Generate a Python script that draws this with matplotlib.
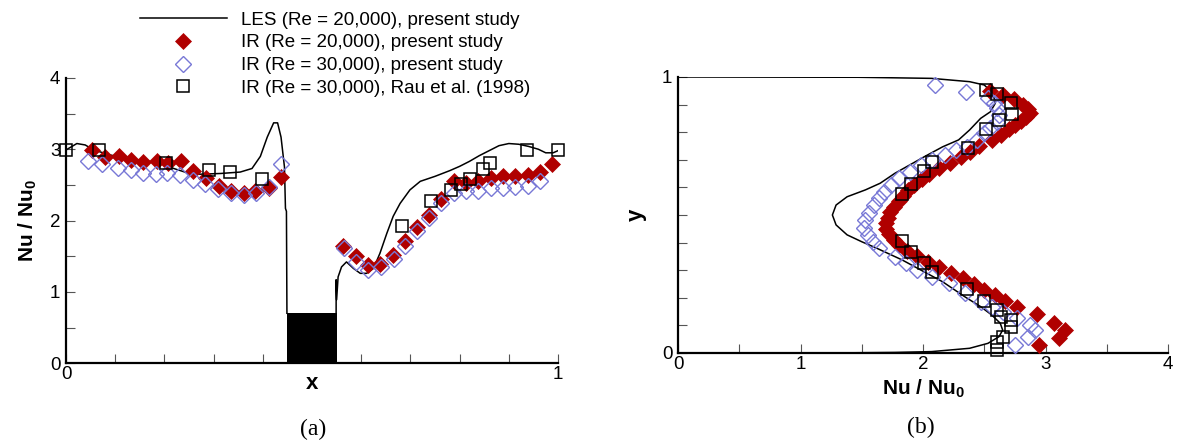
import matplotlib.pyplot as plt
from matplotlib.ticker import MultipleLocator

plt.rcParams['font.family'] = 'Liberation Sans'
plt.rcParams['mathtext.fontset'] = 'custom'
plt.rcParams['mathtext.bf'] = 'Liberation Sans:bold'
plt.rcParams['mathtext.rm'] = 'Liberation Sans'

# ---- panel (a): Nu/Nu0 along x ----
les_a_x = [0.0, 0.022, 0.039, 0.056, 0.09, 0.124, 0.157, 0.191, 0.219, 0.246, 0.273, 0.314,
           0.354, 0.378, 0.395, 0.409, 0.422, 0.430, 0.437, 0.444, 0.446, 0.448, 0.449,
           None,
           0.549, 0.549, 0.550, 0.553, 0.560, 0.570, 0.584, 0.598, 0.611, 0.625, 0.638, 0.652,
           0.665, 0.679, 0.699, 0.720, 0.75, 0.78, 0.80, 0.82, 0.84, 0.86, 0.88, 0.90, 0.92,
           0.94, 0.96, 0.975, 0.99, 1.0]
les_a_y = [2.99, 3.08, 3.06, 2.99, 2.92, 2.86, 2.84, 2.81, 2.73, 2.67, 2.65, 2.66,
           2.68, 2.73, 2.90, 3.17, 3.37, 3.37, 3.17, 2.75, 2.17, 2.13, 0.70,
           None,
           0.70, 1.17, 0.89, 1.21, 1.35, 1.42, 1.33, 1.26, 1.26, 1.33, 1.54, 1.82,
           2.06, 2.24, 2.43, 2.55, 2.62, 2.70, 2.76, 2.83, 2.91, 2.98, 3.05, 3.08, 3.07,
           3.04, 3.00, 2.95, 2.95, 2.98]

ir20_a_x = [0.052, 0.079, 0.107, 0.132, 0.157, 0.185, 0.208, 0.234, 0.259, 0.285, 0.310, 0.335,
            0.361, 0.385, 0.412, 0.436,
            0.562, 0.589, 0.614, 0.638, 0.664, 0.689, 0.713, 0.738, 0.763, 0.788, 0.813,
            0.838, 0.863, 0.888, 0.913, 0.938, 0.963, 0.988]
ir20_a_y = [2.99, 2.89, 2.90, 2.85, 2.82, 2.83, 2.81, 2.83, 2.70, 2.60, 2.49, 2.41,
            2.39, 2.41, 2.45, 2.61,
            1.65, 1.50, 1.38, 1.39, 1.52, 1.71, 1.91, 2.08, 2.30, 2.55, 2.53,
            2.55, 2.60, 2.62, 2.62, 2.64, 2.68, 2.80]

ir30_a_x = [0.045, 0.073, 0.105, 0.132, 0.157, 0.183, 0.206, 0.231, 0.258, 0.283, 0.309, 0.335,
            0.361, 0.386, 0.412, 0.437,
            0.565, 0.589, 0.614, 0.641, 0.666, 0.689, 0.713, 0.738, 0.763, 0.788, 0.813,
            0.838, 0.863, 0.888, 0.913, 0.938, 0.963]
ir30_a_y = [2.84, 2.79, 2.73, 2.71, 2.67, 2.65, 2.66, 2.64, 2.57, 2.51, 2.44, 2.38,
            2.36, 2.39, 2.47, 2.79,
            1.61, 1.42, 1.31, 1.35, 1.46, 1.64, 1.85, 2.03, 2.24, 2.38, 2.41,
            2.42, 2.45, 2.45, 2.47, 2.49, 2.56]

rau_a_x = [0.0, 0.068, 0.204, 0.291, 0.334, 0.399,
           0.682, 0.742, 0.782, 0.803, 0.822, 0.848, 0.861, 0.937, 1.0]
rau_a_y = [2.99, 2.99, 2.81, 2.71, 2.68, 2.58,
           1.92, 2.27, 2.43, 2.51, 2.58, 2.72, 2.81, 2.99, 2.99]

rib_x = [0.45, 0.55]
rib_h = 0.7

# ---- panel (b): y against Nu/Nu0 ----
les_b_nu = [0.0, 1.47, 2.07, 2.38, 2.50, 2.57, 2.59, 2.55, 2.47, 2.38, 2.29, 2.16, 2.01,
            1.89, 1.77, 1.65, 1.53, 1.38, 1.29, 1.26, 1.29, 1.38, 1.50, 1.62, 1.83, 1.98,
            2.16, 2.34, 2.47, 2.56, 2.63, 2.65, 2.62, 2.53, 2.38, 2.07, 1.77, 1.23]
les_b_y = [1.0, 0.999, 0.995, 0.983, 0.971, 0.941, 0.905, 0.874, 0.850, 0.808, 0.772, 0.747,
           0.711, 0.681, 0.651, 0.615, 0.591, 0.566, 0.536, 0.500, 0.464, 0.428, 0.403, 0.380,
           0.337, 0.301, 0.258, 0.204, 0.168, 0.138, 0.108, 0.083, 0.059, 0.035, 0.017, 0.005,
           0.002, 0.0]

ir20_b_nu = [2.55, 2.65, 2.74, 2.82, 2.86, 2.87, 2.84, 2.80, 2.75, 2.70, 2.64, 2.56, 2.46,
             2.38, 2.31, 2.22, 2.13, 2.05, 1.99, 1.93, 1.88, 1.84, 1.80, 1.76, 1.73, 1.71,
             1.70, 1.70, 1.72, 1.76, 1.80, 1.87, 1.95, 2.04, 2.13, 2.23, 2.33, 2.42, 2.50,
             2.59, 2.67, 2.77, 2.93, 3.07, 3.16, 3.11, 2.95]
ir20_b_y = [0.950, 0.935, 0.920, 0.900, 0.885, 0.870, 0.855, 0.840, 0.825, 0.810, 0.790,
            0.770, 0.750, 0.730, 0.710, 0.690, 0.670, 0.650, 0.630, 0.610, 0.590, 0.570,
            0.550, 0.530, 0.510, 0.490, 0.470, 0.450, 0.430, 0.410, 0.390, 0.370, 0.350,
            0.330, 0.310, 0.290, 0.270, 0.250, 0.230, 0.210, 0.190, 0.165, 0.140, 0.110,
            0.085, 0.055, 0.030]

ir30_b_nu = [2.10, 2.35, 2.53, 2.58, 2.60, 2.62, 2.60, 2.55, 2.50, 2.44, 2.36, 2.27, 2.18,
             2.07, 1.98, 1.89, 1.80, 1.74, 1.68, 1.64, 1.60, 1.56, 1.53, 1.52, 1.55, 1.59,
             1.64, 1.77, 1.86, 1.95, 2.07, 2.21, 2.34, 2.47, 2.56, 2.65, 2.77, 2.87, 2.91,
             2.86, 2.75]
ir30_b_y = [0.971, 0.947, 0.923, 0.905, 0.887, 0.862, 0.838, 0.814, 0.796, 0.772, 0.747,
            0.736, 0.717, 0.699, 0.681, 0.657, 0.633, 0.609, 0.585, 0.560, 0.536, 0.506,
            0.482, 0.452, 0.428, 0.403, 0.379, 0.349, 0.325, 0.301, 0.277, 0.253, 0.216,
            0.186, 0.168, 0.150, 0.126, 0.101, 0.083, 0.059, 0.029]

rau_b_nu = [2.51, 2.60, 2.72, 2.73, 2.62, 2.51, 2.37, 2.07, 2.01, 1.90, 1.83, 1.83, 1.90,
            2.01, 2.07, 2.36, 2.50, 2.60, 2.64, 2.72, 2.72, 2.65, 2.60, 2.60]
rau_b_y = [0.953, 0.937, 0.905, 0.865, 0.844, 0.810, 0.742, 0.691, 0.661, 0.612, 0.575,
           0.405, 0.367, 0.325, 0.295, 0.231, 0.188, 0.156, 0.129, 0.120, 0.093, 0.057,
           0.041, 0.011]

labels = ['LES (Re = 20,000), present study',
          'IR (Re = 20,000), present study',
          'IR (Re = 30,000), present study',
          'IR (Re = 30,000), Rau et al. (1998)']

red = '#b00000'
blue = '#7878d6'

les_kw = dict(color='black', lw=1.1)
ir20_kw = dict(ls='none', marker='D', ms=8.0, mfc=red, mec=red, mew=0.5, clip_on=False)
ir30_kw = dict(ls='none', marker='D', ms=8.0, mfc='none', mec=blue, mew=1.0, clip_on=False)
rau_kw = dict(ls='none', marker='s', ms=9.0, mfc='none', mec='black', mew=1.1, clip_on=False)

fig = plt.figure(figsize=(11.79, 4.44), dpi=100)
ax1 = fig.add_axes([0.056, 0.182, 0.4173, 0.6425])
ax2 = fig.add_axes([0.5751, 0.205, 0.4156, 0.6216])

ax1.bar((rib_x[0] + rib_x[1]) / 2, rib_h, width=rib_x[1] - rib_x[0], color='black', zorder=2)
h_les, = ax1.plot(les_a_x, les_a_y, zorder=3, **les_kw)
h20, = ax1.plot(ir20_a_x, ir20_a_y, zorder=4, **ir20_kw)
h30, = ax1.plot(ir30_a_x, ir30_a_y, zorder=5, **ir30_kw)
hrau, = ax1.plot(rau_a_x, rau_a_y, zorder=6, **rau_kw)

ax2.plot(les_b_nu, les_b_y, zorder=3, **les_kw)
ax2.plot(ir20_b_nu, ir20_b_y, zorder=4, **ir20_kw)
ax2.plot(ir30_b_nu, ir30_b_y, zorder=5, **ir30_kw)
ax2.plot(rau_b_nu, rau_b_y, zorder=6, **rau_kw)

ax1.set_xlim(0, 1)
ax1.set_ylim(0, 4)
ax1.set_xticks([0, 1])
ax1.set_yticks([0, 1, 2, 3, 4])
ax1.xaxis.set_minor_locator(MultipleLocator(0.1))
ax1.yaxis.set_minor_locator(MultipleLocator(0.5))

ax2.set_xlim(0, 4)
ax2.set_ylim(0, 1)
ax2.set_xticks([0, 1, 2, 3, 4])
ax2.set_yticks([0, 1])
ax2.xaxis.set_minor_locator(MultipleLocator(0.5))
ax2.yaxis.set_minor_locator(MultipleLocator(0.1))

for ax in (ax1, ax2):
    for s in ('top', 'right'):
        ax.spines[s].set_visible(False)
    for s in ('left', 'bottom'):
        ax.spines[s].set_linewidth(1.6)
    ax.tick_params(which='both', direction='in', length=6.5, width=0.8, color='#555555',
                   labelsize=13.5)
    ax.tick_params(axis='x', which='both', pad=2)
    ax.tick_params(axis='y', which='both', pad=4)

ax1.text(0.5, -0.07, 'x', transform=ax1.transAxes, ha='center', va='center',
         fontsize=16, fontweight='bold')
ax1.text(-0.078, 0.5, r'Nu / Nu$_\mathbf{0}$', transform=ax1.transAxes, ha='center',
         va='center', rotation=90, fontsize=15, fontweight='bold')
ax2.text(0.5, -0.13, r'Nu / Nu$_\mathbf{0}$', transform=ax2.transAxes, ha='center',
         va='center', fontsize=15, fontweight='bold')
ax2.text(-0.085, 0.5, 'y', transform=ax2.transAxes, ha='center', va='center',
         rotation=90, fontsize=16, fontweight='bold')

fig.text(313 / 1179, 1 - 429 / 444, '(a)', ha='center', va='center',
         family='Liberation Serif', fontsize=17)
fig.text(921 / 1179, 1 - 427 / 444, '(b)', ha='center', va='center',
         family='Liberation Serif', fontsize=17)

fig.legend([h_les, h20, h30, hrau], labels, loc='upper left',
           bbox_to_anchor=(0.119, 0.974), frameon=False, fontsize=13.5,
           handlelength=4.6, handletextpad=0.75, labelspacing=0.3, borderpad=0,
           borderaxespad=0, numpoints=1)

fig.savefig('out.png', dpi=100)
